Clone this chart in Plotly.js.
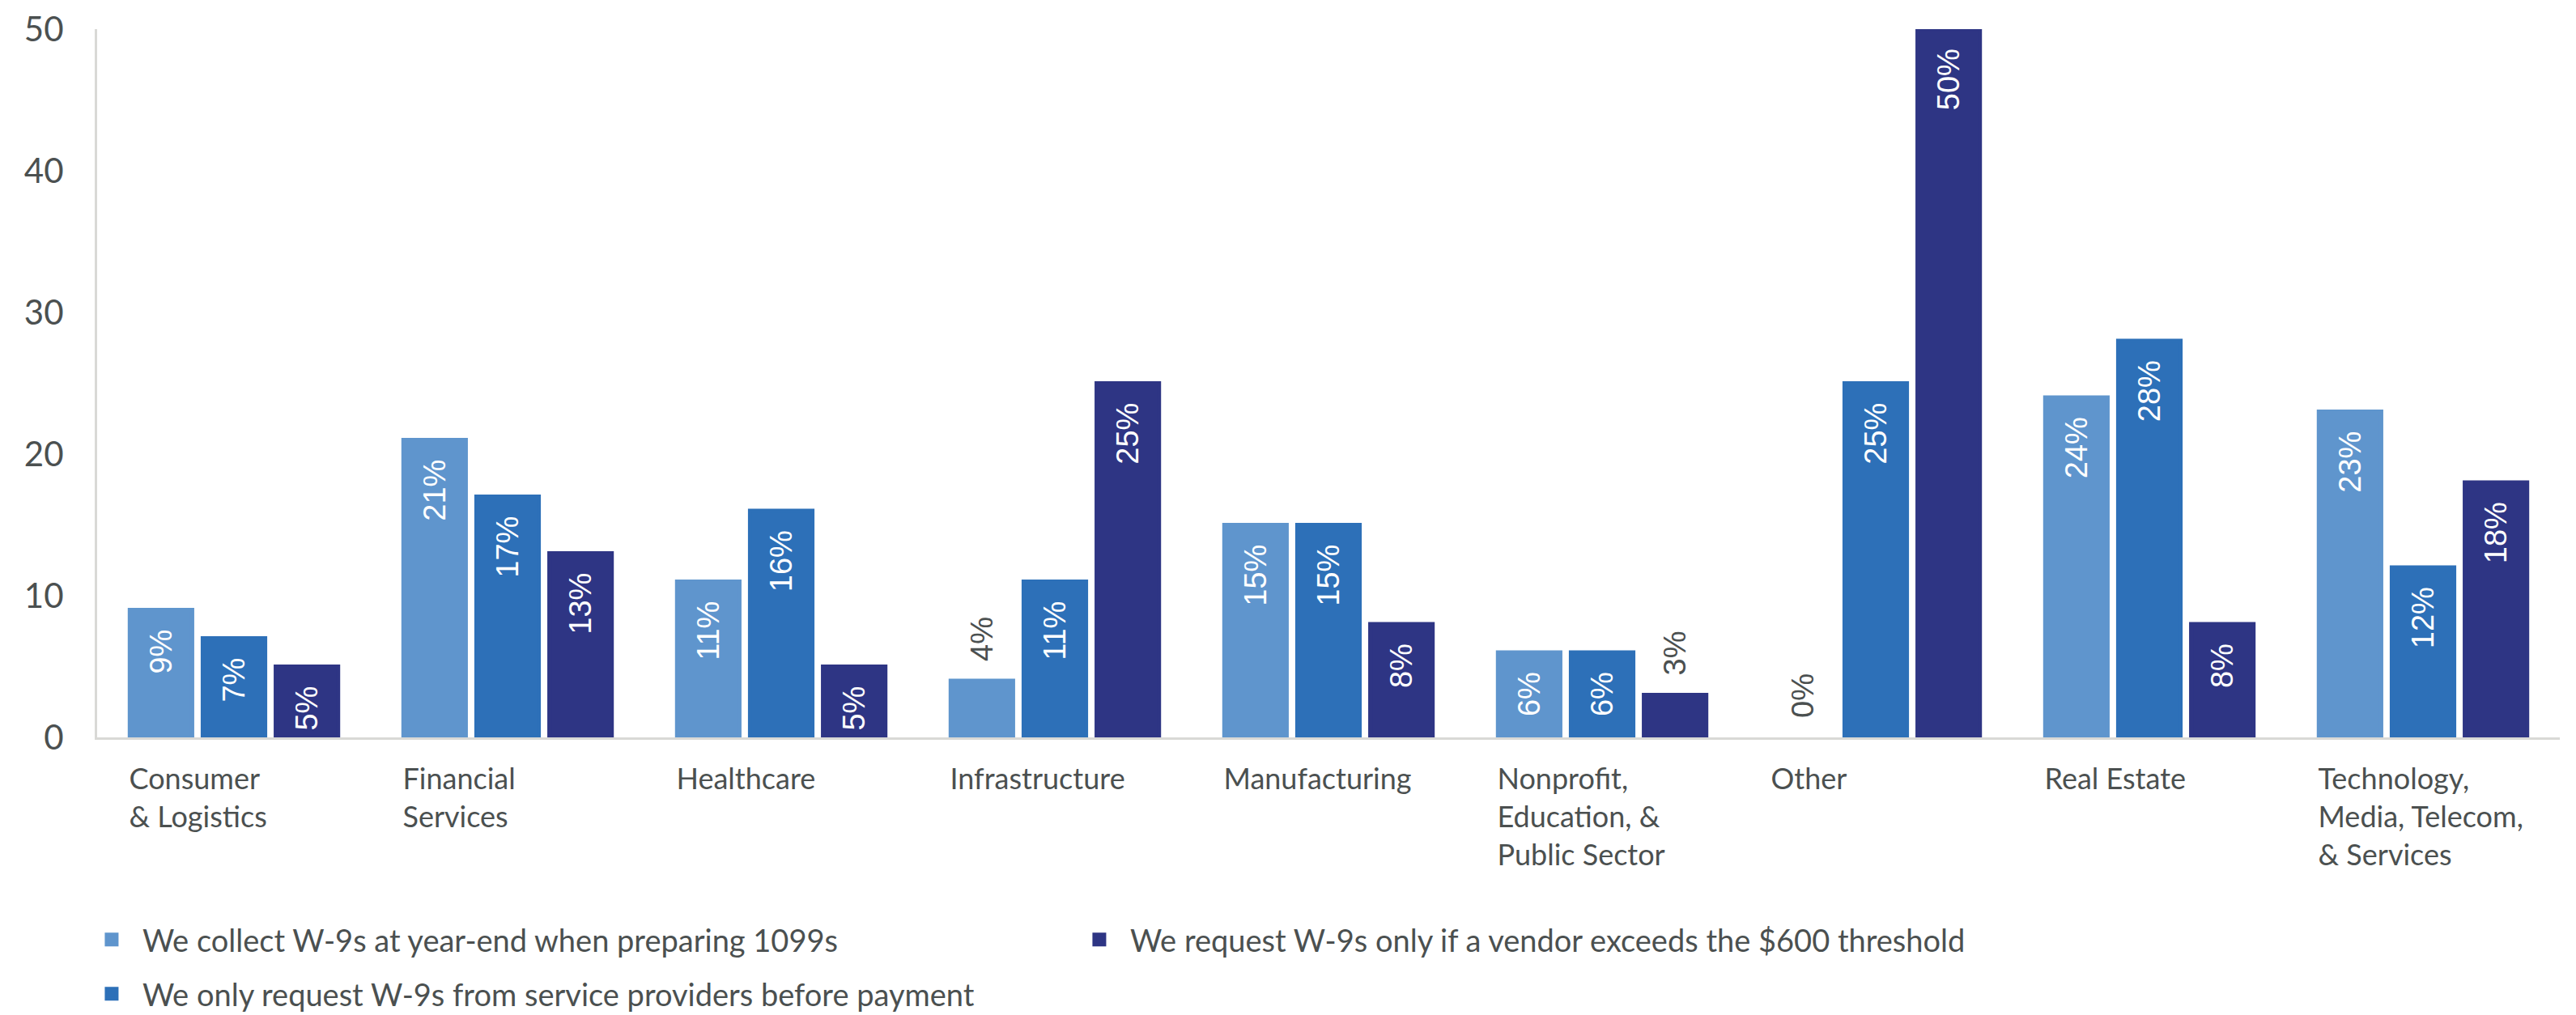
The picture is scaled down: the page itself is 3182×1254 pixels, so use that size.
<!DOCTYPE html>
<html>
<head>
<meta charset="utf-8">
<script src="https://cdn.plot.ly/plotly-3.0.1.min.js"></script>
<style>html,body{margin:0;padding:0;background:#ffffff;}</style>
</head>
<body>
<div id="chart" style="width:3182px;height:1254px;"></div>
<script>
// ---- data ----
const categories = [
  "Consumer<br>& Logistics",
  "Financial<br>Services",
  "Healthcare",
  "Infrastructure",
  "Manufacturing",
  "Nonprofit,<br>Education, &<br>Public Sector",
  "Other",
  "Real Estate",
  "Technology,<br>Media, Telecom,<br>& Services"
];
const seriesNames = [
  "We collect W-9s at year-end when preparing 1099s",
  "We only request W-9s from service providers before payment",
  "We request W-9s only if a vendor exceeds the $600 threshold"
];
const collectAtYearEnd      = [9, 21, 11, 4, 15, 6, 0, 24, 23];
const requestFromProviders  = [7, 17, 16, 11, 15, 6, 25, 28, 12];
const requestOverThreshold  = [5, 13, 5, 25, 8, 3, 50, 8, 18];
const yTickValues = [0, 10, 20, 30, 40, 50];

// ---- styles ----
const colors = ["#5f95cd", "#2d70b8", "#2e3584"];
const labelFont = "Lato, 'Open Sans', sans-serif";
const barLabelFont = "'Liberation Sans', Arial, sans-serif";
const gray = "#4b5050";
const NB = "\u00a0\u00a0";

function makeTrace(values, idx, legendId, rank) {
  return {
    type: "bar",
    name: seriesNames[idx],
    x: categories,
    y: values,
    marker: {
      color: colors[idx],
      line: { color: colors[idx], width: values.map(v => v > 0 ? 5 : 0) }
    },
    text: values.map(v => v < 5 ? NB + v + "%" : v + "%" + NB),
    textposition: values.map(v => v < 5 ? "outside" : "inside"),
    insidetextanchor: "end",
    textangle: -90,
    constraintext: "none",
    insidetextfont: { family: barLabelFont, size: 38, color: "#ffffff" },
    outsidetextfont: { family: barLabelFont, size: 38, color: gray },
    cliponaxis: false,
    hoverinfo: "skip",
    legend: legendId,
    legendrank: rank
  };
}

const data = [
  makeTrace(collectAtYearEnd, 0, "legend", 1),
  makeTrace(requestFromProviders, 1, "legend2", 1),
  makeTrace(requestOverThreshold, 2, "legend", 2)
];

const legendBase = {
  orientation: "h",
  x: -0.0066, xanchor: "left",
  yanchor: "middle",
  itemwidth: 66,
  font: { family: labelFont, size: 38, color: gray },
  bgcolor: "rgba(0,0,0,0)",
  itemclick: false, itemdoubleclick: false
};

const layout = {
  width: 3182,
  height: 1254,
  margin: { l: 120, r: 20, t: 36, b: 343, pad: 0, autoexpand: false },
  paper_bgcolor: "#ffffff",
  plot_bgcolor: "#ffffff",
  barmode: "group",
  bargap: 0.2,
  bargroupgap: 0.144,
  showlegend: true,
  font: { family: labelFont, color: gray },
  xaxis: {
    type: "category",
    showline: true, linecolor: "#d9d9d6", linewidth: 3,
    showgrid: false, zeroline: false,
    ticks: "",
    ticklabelposition: "outside right",
    ticklabelshift: -131,
    ticklabelstandoff: 18,
    tickfont: { family: labelFont, size: 36, color: gray },
    fixedrange: true
  },
  yaxis: {
    range: [0, 50],
    tickvals: yTickValues,
    ticktext: yTickValues.map(String),
    showline: true, linecolor: "#d9d9d6", linewidth: 3,
    showgrid: false, zeroline: false,
    ticks: "",
    ticklabelstandoff: 30,
    tickfont: { family: labelFont, size: 42, color: gray },
    fixedrange: true
  },
  legend: Object.assign({}, legendBase, { y: -0.2857, entrywidth: 1139 }),
  legend2: Object.assign({}, legendBase, { y: -0.3623 })
};

Plotly.newPlot("chart", data, layout, { displayModeBar: false, staticPlot: true });
</script>
</body>
</html>
